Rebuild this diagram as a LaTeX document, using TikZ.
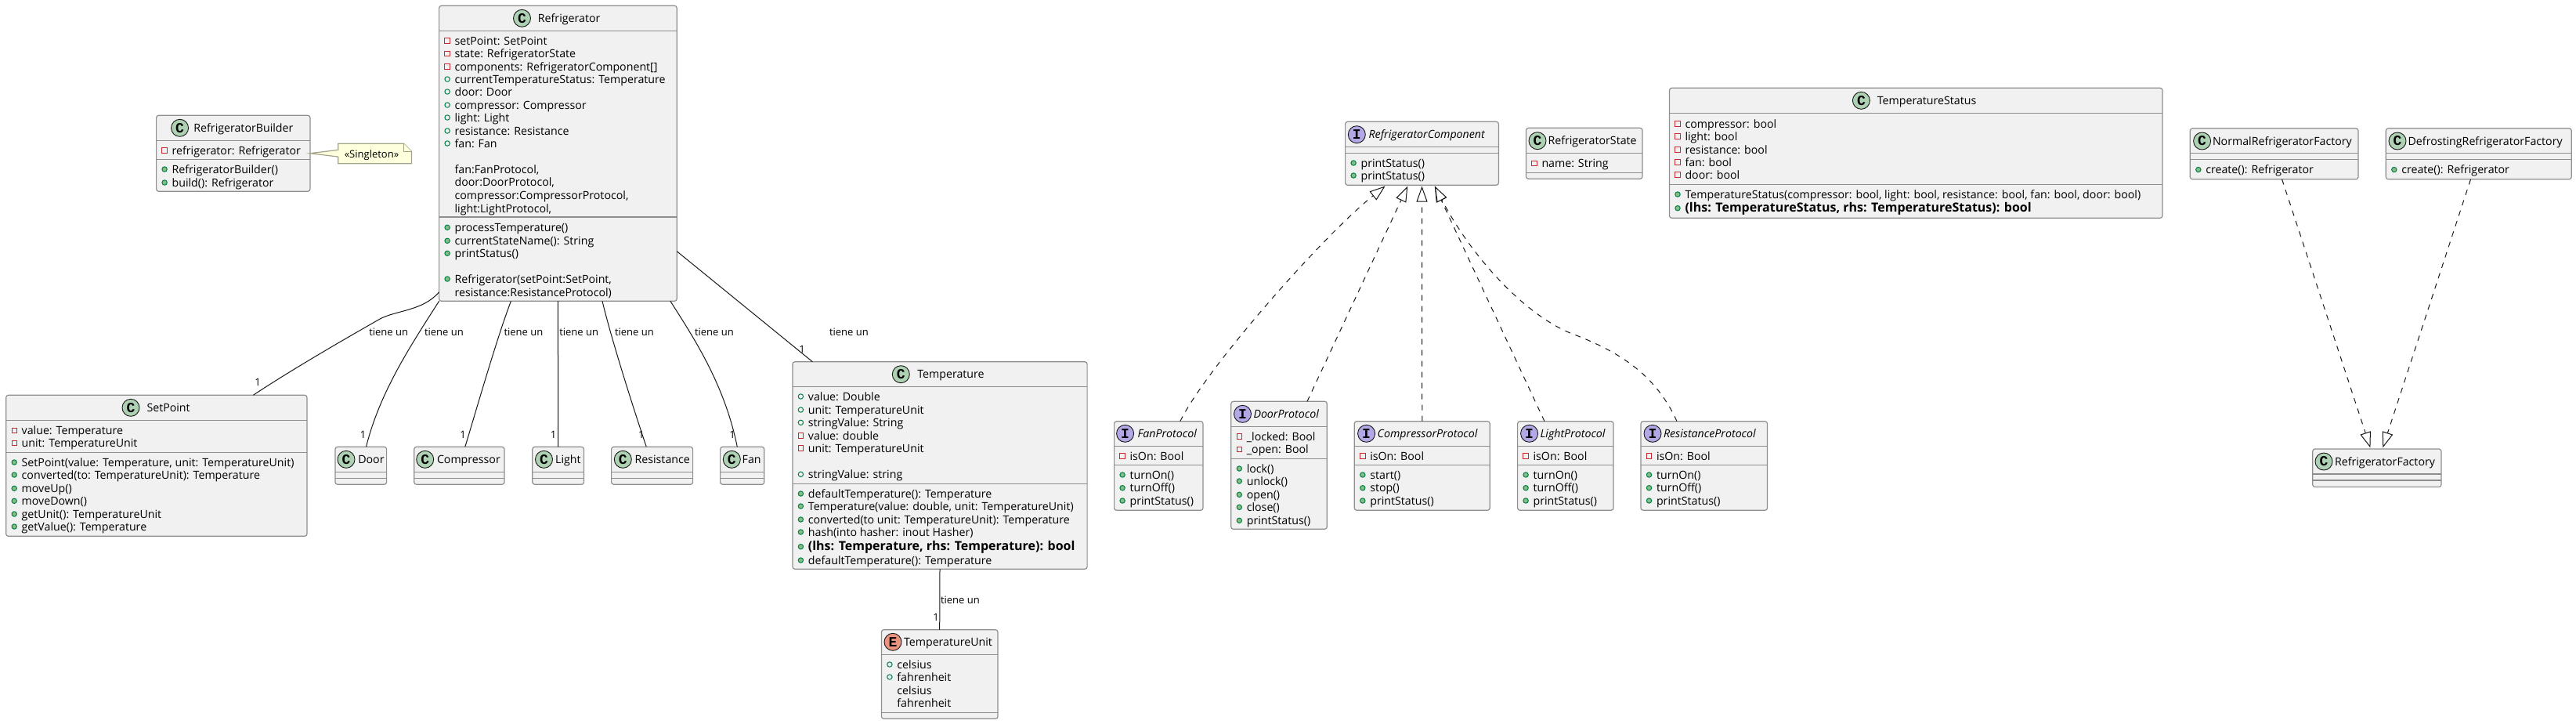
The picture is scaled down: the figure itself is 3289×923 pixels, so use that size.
\documentclass[tikz,border=0pt]{standalone}
\usepackage{fontspec}
\setmainfont{Open Sans}
\newfontfamily\cfont{Liberation Mono}
\usetikzlibrary{arrows.meta,calc}
\definecolor{boxfill}{HTML}{F1F1F1}
\definecolor{boxline}{HTML}{8E8E8E}
\definecolor{ink}{HTML}{181818}
\definecolor{cgreen}{HTML}{ADD1B2}
\definecolor{ipurple}{HTML}{B4A7E5}
\definecolor{ered}{HTML}{EB937F}
\definecolor{vgreen}{HTML}{038048}
\definecolor{vgreenf}{HTML}{84BE84}
\definecolor{vred}{HTML}{C82930}
\definecolor{notefill}{HTML}{FEFFDD}
\definecolor{noteline}{HTML}{A3A38C}
\tikzset{
  umlbox/.style={draw=boxline,fill=boxfill,line width=.6pt,rounded corners=1.5pt,inner sep=0pt,outer sep=0pt,anchor=north west},
  divider/.style={draw=boxline,line width=.6pt},
  txtn/.style={anchor=base west,inner sep=0pt,outer sep=0pt,text=black,font=\fontsize{7.1}{8}\selectfont},
  txtb/.style={txtn,font=\fontsize{8}{9}\selectfont\bfseries},
  txti/.style={txtn,font=\fontsize{7.1}{8}\selectfont\itshape},
  lbl/.style={anchor=base west,inner sep=0pt,outer sep=0pt,text=black,font=\fontsize{6.5}{7}\selectfont},
  onelbl/.style={anchor=base,inner sep=0pt,outer sep=0pt,text=black,font=\fontsize{6.5}{7}\selectfont},
  badge/.style={circle,draw=ink,line width=.45pt,minimum size=11pt,inner sep=0pt,outer sep=0pt,text=black,font=\cfont\fontsize{9}{9}\selectfont\bfseries},
  assoc/.style={draw=ink,line width=.5pt},
  realz/.style={draw=ink,line width=.5pt,dash pattern=on 3.5pt off 3.5pt,-{Triangle[open,length=10pt,width=7pt,fill=white]}},
  pvicon/.style={draw=vred,line width=.5pt,fill=none},
  fdicon/.style={draw=vgreen,line width=.5pt,fill=none},
  mticon/.style={draw=vgreen,line width=.5pt,fill=vgreenf},
  noteshape/.style={draw=noteline,line width=.6pt,fill=notefill},
}
\newcounter{tn}
\newcommand{\Txt}[4][txtn]{\stepcounter{tn}\node[#1] (t\arabic{tn}) at (#2,{#3+5}) {#4};}
\newcommand{\mpriv}[3]{\path[pvicon] ({#1+7.3},{#2-3.3}) rectangle ({#1+13.7},{#2+3.3});\Txt{#1+20}{#2}{#3}}
\newcommand{\mfld}[3]{\path[fdicon] ({#1+10.5},#2) circle[radius=1.6pt];\Txt{#1+20}{#2}{#3}}
\newcommand{\mmeth}[3]{\path[mticon] ({#1+10.5},#2) circle[radius=1.6pt];\Txt{#1+20}{#2}{#3}}
\newcommand{\mbold}[3]{\path[mticon] ({#1+10.5},#2) circle[radius=1.6pt];\Txt[txtb]{#1+20}{#2}{#3}}
\newcommand{\mplain}[3]{\Txt{#1+20}{#2}{#3}}
% name x1 y1 x2 y2 hdr div
\newcommand{\UBox}[7]{%
  \pgfmathsetmacro\bw{(#4-#2)*0.5}\pgfmathsetmacro\bh{(#5-#3)*0.5}%
  \pgfmathsetmacro\hdra{(#6-#3)*0.5}\pgfmathsetmacro\hdrb{(#7-#3)*0.5}%
  \node[umlbox,minimum width=\bw pt,minimum height=\bh pt] (#1) at (#2,#3) {};
  \draw[divider] ([yshift=-\hdra pt]#1.north west) -- ([yshift=-\hdra pt]#1.north east);
  \draw[divider] ([yshift=-\hdrb pt]#1.north west) -- ([yshift=-\hdrb pt]#1.north east);
}
\newcommand{\Badge}[5]{\node[badge,fill=#4] (b#1) at (#2,#3) {#5};}
\begin{document}
\begin{tikzpicture}[x=0.5pt,y=-0.5pt]
\useasboundingbox (0,0) rectangle (3289,923);
% RefrigeratorBuilder
\UBox{Builder}{199.6}{147.3}{396}{244.3}{179.3}{203.3}
\Badge{Builder}{229.6}{163.3}{cgreen}{C}
\Txt{247.4}{163.3}{RefrigeratorBuilder}
\mpriv{199.6}{192}{refrigerator: Refrigerator}
\mmeth{199.6}{216}{RefrigeratorBuilder()}
\mmeth{199.6}{233}{build(): Refrigerator}
% note
\node[inner sep=0pt,outer sep=0pt,minimum width=46.85pt,minimum height=12.7pt,anchor=north west] (Note) at (431.8,183.3) {};
\draw[noteshape] (Note.north west) -- ([xshift=-5pt]Note.north east) -- ([yshift=-5pt]Note.north east) -- (Note.south east) -- (Note.south west) -- ([yshift=-8.4pt]Note.north west) -- ([yshift=-24.2pt]Builder.north east) -- ([yshift=-4pt]Note.north west) -- cycle;
\draw[noteshape] ([xshift=-5pt]Note.north east) -- ([xshift=-5pt,yshift=-5pt]Note.north east) -- ([yshift=-5pt]Note.north east);
\node[lbl,anchor=base] (NoteText) at (474.5,201) {«Singleton»};
% Refrigerator
\UBox{Refrigerator}{560.6}{7.3}{864.2}{384.3}{39.3}{277}
\Badge{Refrigerator}{666.5}{23.3}{cgreen}{C}
\Txt{686.9}{23.3}{Refrigerator}
\mpriv{560.6}{52}{setPoint: SetPoint}
\mpriv{560.6}{68.3}{state: RefrigeratorState}
\mpriv{560.6}{85}{components: RefrigeratorComponent[]}
\mfld{560.6}{101}{currentTemperatureStatus: Temperature}
\mfld{560.6}{117}{door: Door}
\mfld{560.6}{134}{compressor: Compressor}
\mfld{560.6}{150}{light: Light}
\mfld{560.6}{167}{resistance: Resistance}
\mfld{560.6}{183}{fan: Fan}
\mplain{560.6}{216}{fan:FanProtocol,}
\mplain{560.6}{232.7}{door:DoorProtocol,}
\mplain{560.6}{249.3}{compressor:CompressorProtocol,}
\mplain{560.6}{266}{light:LightProtocol,}
\mmeth{560.6}{290.3}{processTemperature()}
\mmeth{560.6}{307.3}{currentStateName(): String}
\mmeth{560.6}{323.3}{printStatus()}
\mmeth{560.6}{356}{Refrigerator(setPoint:SetPoint,}
\mplain{560.6}{373}{resistance:ResistanceProtocol)}
% SetPoint
\UBox{SetPoint}{7.7}{504.3}{392}{684.3}{536.3}{577.3}
\Badge{SetPoint}{167}{520.3}{cgreen}{C}
\Txt{187.5}{520.3}{SetPoint}
\mpriv{7.7}{549.3}{value: Temperature}
\mpriv{7.7}{565.3}{unit: TemperatureUnit}
\mmeth{7.7}{590}{SetPoint(value: Temperature, unit: TemperatureUnit)}
\mmeth{7.7}{606}{converted(to: TemperatureUnit): Temperature}
\mmeth{7.7}{623.3}{moveUp()}
\mmeth{7.7}{639.3}{moveDown()}
\mmeth{7.7}{656}{getUnit(): TemperatureUnit}
\mmeth{7.7}{672}{getValue(): Temperature}
% small classes
\UBox{Door}{428}{570.3}{493.6}{618.3}{602.3}{610.3}
\Badge{Door}{442}{586.3}{cgreen}{C}
\Txt{457.3}{586.3}{Door}
\UBox{Compressor}{528.7}{570.3}{644}{618.3}{602.3}{610.3}
\Badge{Compressor}{542.7}{586.3}{cgreen}{C}
\Txt{558}{586.3}{Compressor}
\UBox{Light}{679.8}{570.3}{745.5}{618.3}{602.3}{610.3}
\Badge{Light}{694.5}{586.3}{cgreen}{C}
\Txt{709.2}{586.3}{Light}
\UBox{Resistance}{780.6}{570.3}{884.6}{618.3}{602.3}{610.3}
\Badge{Resistance}{795.3}{586.3}{cgreen}{C}
\Txt{810.6}{586.3}{Resistance}
\UBox{Fan}{919.6}{570.3}{975.8}{618.3}{602.3}{610.3}
\Badge{Fan}{934.3}{586.3}{cgreen}{C}
\Txt{947.7}{586.3}{Fan}
% Temperature
\UBox{Temperature}{1011.9}{461.7}{1388.1}{726.3}{493.3}{617.3}
\Badge{Temperature}{1150.3}{477.7}{cgreen}{C}
\Txt{1171.3}{477.7}{Temperature}
\mfld{1011.9}{506}{value: Double}
\mfld{1011.9}{523}{unit: TemperatureUnit}
\mfld{1011.9}{539.3}{stringValue: String}
\mpriv{1011.9}{556}{value: double}
\mpriv{1011.9}{572}{unit: TemperatureUnit}
\mfld{1011.9}{605.3}{stringValue: string}
\mmeth{1011.9}{630}{defaultTemperature(): Temperature}
\mmeth{1011.9}{646}{Temperature(value: double, unit: TemperatureUnit)}
\mmeth{1011.9}{663}{converted(to unit: TemperatureUnit): Temperature}
\mmeth{1011.9}{679}{hash(into hasher: inout Hasher)}
\mbold{1011.9}{697.7}{(lhs: Temperature, rhs: Temperature): bool}
\mmeth{1011.9}{715}{defaultTemperature(): Temperature}
% TemperatureUnit
\UBox{TemperatureUnit}{1125.4}{803.7}{1274}{917.3}{835.3}{909.3}
\Badge{TemperatureUnit}{1140}{819.3}{ered}{E}
\Txt{1154}{819.3}{TemperatureUnit}
\mfld{1125.4}{848}{celsius}
\mfld{1125.4}{864}{fahrenheit}
\mplain{1125.4}{881}{celsius}
\mplain{1125.4}{897}{fahrenheit}
% FanProtocol
\UBox{FanProtocol}{1422.6}{537.7}{1536}{651.3}{569.3}{593.7}
\Badge{FanProtocol}{1436.6}{553.3}{ipurple}{I}
\Txt[txti]{1452.5}{553.3}{FanProtocol}
\mpriv{1422.6}{582}{isOn: Bool}
\mmeth{1422.6}{606}{turnOn()}
\mmeth{1422.6}{622.7}{turnOff()}
\mmeth{1422.6}{639}{printStatus()}
% DoorProtocol
\UBox{DoorProtocol}{1571.8}{512.3}{1694.3}{675.3}{544.3}{585.3}
\Badge{DoorProtocol}{1586.5}{528.3}{ipurple}{I}
\Txt[txti]{1600.5}{528.3}{DoorProtocol}
\mpriv{1571.8}{557}{\_locked: Bool}
\mpriv{1571.8}{573.3}{\_open: Bool}
\mmeth{1571.8}{598}{lock()}
\mmeth{1571.8}{614}{unlock()}
\mmeth{1571.8}{631.3}{open()}
\mmeth{1571.8}{647.3}{close()}
\mmeth{1571.8}{664.3}{printStatus()}
% CompressorProtocol
\UBox{CompressorProtocol}{1729.3}{537.7}{1902.2}{651.3}{569.3}{593.7}
\Badge{CompressorProtocol}{1744.6}{553.3}{ipurple}{I}
\Txt[txti]{1758.7}{553.3}{CompressorProtocol}
\mpriv{1729.3}{582}{isOn: Bool}
\mmeth{1729.3}{606}{start()}
\mmeth{1729.3}{622.7}{stop()}
\mmeth{1729.3}{639}{printStatus()}
% LightProtocol
\UBox{LightProtocol}{1937.6}{537.7}{2060}{651.3}{569.3}{593.7}
\Badge{LightProtocol}{1952.6}{553.3}{ipurple}{I}
\Txt[txti]{1966.6}{553.3}{LightProtocol}
\mpriv{1937.6}{582}{isOn: Bool}
\mmeth{1937.6}{606}{turnOn()}
\mmeth{1937.6}{622.7}{turnOff()}
\mmeth{1937.6}{639}{printStatus()}
% ResistanceProtocol
\UBox{ResistanceProtocol}{2095}{537.7}{2256.5}{651.3}{569.3}{593.7}
\Badge{ResistanceProtocol}{2110}{553.3}{ipurple}{I}
\Txt[txti]{2124}{553.3}{ResistanceProtocol}
\mpriv{2095}{582}{isOn: Bool}
\mmeth{2095}{606}{turnOn()}
\mmeth{2095}{622.7}{turnOff()}
\mmeth{2095}{639}{printStatus()}
% RefrigeratorComponent
\UBox{Component}{1717.6}{155.3}{1913.4}{236.3}{187.3}{195.3}
\Badge{Component}{1732.3}{171.7}{ipurple}{I}
\Txt[txti]{1747.6}{171.7}{RefrigeratorComponent}
\mmeth{1717.6}{208}{printStatus()}
\mmeth{1717.6}{224}{printStatus()}
% RefrigeratorState
\UBox{State}{1948.5}{163.3}{2097}{228.3}{195.3}{220.3}
\Badge{State}{1963}{179.7}{cgreen}{C}
\Txt{1976.5}{179.7}{RefrigeratorState}
\mpriv{1948.5}{208.3}{name: String}
% TemperatureStatus
\UBox{TemperatureStatus}{2131.5}{112.3}{2761}{278.3}{144.3}{235.3}
\Badge{TemperatureStatus}{2376.4}{128.3}{cgreen}{C}
\Txt{2396.8}{128.3}{TemperatureStatus}
\mpriv{2131.5}{158}{compressor: bool}
\mpriv{2131.5}{174}{light: bool}
\mpriv{2131.5}{191}{resistance: bool}
\mpriv{2131.5}{207}{fan: bool}
\mpriv{2131.5}{223}{door: bool}
\mmeth{2131.5}{248}{TemperatureStatus(compressor: bool, light: bool, resistance: bool, fan: bool, door: bool)}
\mbold{2131.5}{265.7}{(lhs: TemperatureStatus, rhs: TemperatureStatus): bool}
% Factories
\UBox{NormalF}{2796.3}{163.8}{3011}{228.8}{195.8}{203.8}
\Badge{NormalF}{2811.6}{180}{cgreen}{C}
\Txt{2825}{180}{NormalRefrigeratorFactory}
\mmeth{2796.3}{216.5}{create(): Refrigerator}
\UBox{DefrostF}{3046.3}{163.8}{3283.2}{228.8}{195.8}{203.8}
\Badge{DefrostF}{3061}{180}{cgreen}{C}
\Txt{3074.6}{180}{DefrostingRefrigeratorFactory}
\mmeth{3046.3}{216.5}{create(): Refrigerator}
\UBox{Factory}{2952.7}{573}{3117}{621.5}{605}{613}
\Badge{Factory}{2967}{589}{cgreen}{C}
\Txt{2981}{589}{RefrigeratorFactory}
% associations
\draw[assoc] ([yshift=5.8pt]Refrigerator.south west) .. controls (540,397) and (505,396) .. (484.7,407.3) .. controls (450,427) and (375,470) .. ([xshift=157.8pt]SetPoint.north west);
\draw[assoc] (Refrigerator.south west) .. controls (525,440) and (485,500) .. ([xshift=19.75pt]Door.north west);
\draw[assoc] ([xshift=45.9pt]Refrigerator.south west) .. controls (635,430) and (612,510) .. ([xshift=32.55pt]Compressor.north west);
\draw[assoc] (Refrigerator.south) -- (Light.north);
\draw[assoc] ([xshift=28.3pt]Refrigerator.south) .. controls (780,430) and (805,510) .. ([xshift=22.35pt]Resistance.north west);
\draw[assoc] ([xshift=-4.15pt]Refrigerator.south east) .. controls (885,430) and (925,490) .. ([xshift=10.85pt]Fan.north west);
\draw[assoc] ([yshift=31.8pt]Refrigerator.south east) -- ([xshift=12.75pt]Temperature.north west);
\draw[assoc] (Temperature.south) -- (TemperatureUnit.north);
% labels
\node[lbl] (l1) at (471.3,428.5) {tiene un};
\node[lbl] (l2) at (542,428.5) {tiene un};
\node[lbl] (l3) at (643.5,428.5) {tiene un};
\node[lbl] (l4) at (714.3,428.5) {tiene un};
\node[lbl] (l5) at (785,428.5) {tiene un};
\node[lbl] (l6) at (887,428.5) {tiene un};
\node[lbl] (l7) at (1059,428.5) {tiene un};
\node[lbl] (l8) at (1201,770.2) {tiene un};
\node[onelbl] (o1) at (329,492.8) {1};
\node[onelbl] (o2) at (463.6,559.2) {1};
\node[onelbl] (o3) at (591,559.2) {1};
\node[onelbl] (o4) at (706.6,559.2) {1};
\node[onelbl] (o5) at (818.9,559.2) {1};
\node[onelbl] (o6) at (935,559.2) {1};
\node[onelbl] (o7) at (1024,450.8) {1};
\node[onelbl] (o8) at (1195,792.8) {1};
% realizations
\draw[realz] ([xshift=42.1pt]FanProtocol.north west) .. controls (1540,470) and (1690,300) .. ([xshift=25.5pt,yshift=-.6pt]Component.south west);
\draw[realz] ([xshift=48.6pt]DoorProtocol.north west) -- ([xshift=39.85pt,yshift=-.6pt]Component.south west);
\draw[realz] (CompressorProtocol.north) -- ([yshift=-.6pt]Component.south);
\draw[realz] ([xshift=17.2pt]LightProtocol.north west) -- ([xshift=57.1pt,yshift=-.6pt]Component.south west);
\draw[realz] ([xshift=23pt]ResistanceProtocol.north west) .. controls (2115,480) and (2070,450) .. (2010,427) .. controls (1950,405) and (1880,330) .. ([xshift=57.1pt,yshift=-.6pt]Component.south west);
\draw[realz] ([xshift=58.65pt]NormalF.south west) -- ([xshift=36.85pt,yshift=.8pt]Factory.north west);
\draw[realz] ([xshift=54.1pt]DefrostF.south west) -- ([xshift=44.8pt,yshift=.8pt]Factory.north west);
\end{tikzpicture}
\end{document}
